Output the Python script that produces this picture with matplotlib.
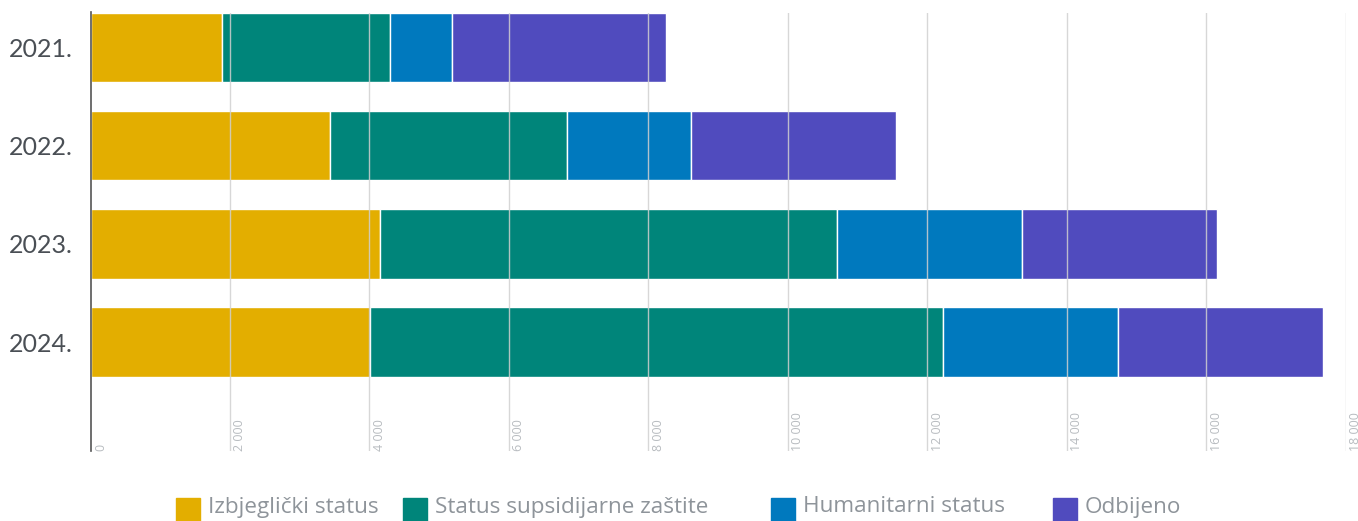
import matplotlib
matplotlib.use('Agg')
import matplotlib.pyplot as plt
from matplotlib.patches import Rectangle
from matplotlib.transforms import blended_transform_factory, offset_copy

# data
years = ['2021.', '2022.', '2023.', '2024.']
series_names = ['Izbjeglički status', 'Status supsidijarne zaštite',
                'Humanitarni status', 'Odbijeno']
izbjeglicki = [1885, 3440, 4150, 4010]
supsidijarna = [2410, 3390, 6560, 8210]
humanitarni = [890, 1780, 2650, 2520]
odbijeno = [3065, 2940, 2790, 2930]
x_ticks = [0, 2000, 4000, 6000, 8000, 10000, 12000, 14000, 16000, 18000]

colors = ['#E3AE00', '#00857A', '#0079BE', '#504BBE']
series = [izbjeglicki, supsidijarna, humanitarni, odbijeno]

fig = plt.figure(figsize=(13.58, 5.21), dpi=100)
ax = fig.add_axes([90.5 / 1358, 1 - 451 / 521, (1345.7 - 90.5) / 1358, (451 - 12.5) / 521])

pos = list(range(len(years)))
left = [0] * len(years)
for vals, name, c in zip(series, series_names, colors):
    ax.barh(pos, vals, left=left, height=0.707, color=c, edgecolor='white',
            linewidth=1.0, label=name, zorder=2)
    left = [l + v for l, v in zip(left, vals)]

ax.set_xlim(0, 18000)
ax.set_ylim(4.107, -0.355)

# vertical grid on top of the bars
for t in x_ticks[1:]:
    ax.axvline(t, color='#d0d0d0', lw=1.0, alpha=0.85, zorder=3)

for s in ['top', 'right', 'bottom']:
    ax.spines[s].set_visible(False)
ax.spines['left'].set_color('#555555')
ax.spines['left'].set_linewidth(1.2)
ax.spines['left'].set_zorder(4)

ax.set_xticks([])
ax.set_yticks(pos)
ax.set_yticklabels(years)
for lab in ax.get_yticklabels():
    lab.set_fontfamily('Lato')
    lab.set_fontsize(18)
    lab.set_color('#4a4f55')
ax.tick_params(axis='y', length=0, pad=13)

# tick labels sit inside the plot, rotated, right of each line
tr = offset_copy(blended_transform_factory(ax.transData, ax.transAxes),
                 fig=fig, x=2.5, y=0, units='points')
for t in x_ticks:
    lab = f'{t:,}'.replace(',', ' ')
    ax.text(t, 0, lab, transform=tr, rotation=90, ha='left', va='bottom',
            fontsize=9, color='#b8bcc0', family='Open Sans')

# legend, placed by hand like the original
leg_x = [176, 403, 771, 1053]
for x, name, c in zip(leg_x, series_names, colors):
    fig.add_artist(Rectangle((x / 1358, 0), 24 / 1358, 23.5 / 521,
                             transform=fig.transFigure, color=c))
    fig.text((x + 32) / 1358, 1 - 507 / 521, name, fontsize=16.2,
             color='#8e949a', family='Open Sans', va='center', ha='left')

fig.savefig('out.png', dpi=100)
